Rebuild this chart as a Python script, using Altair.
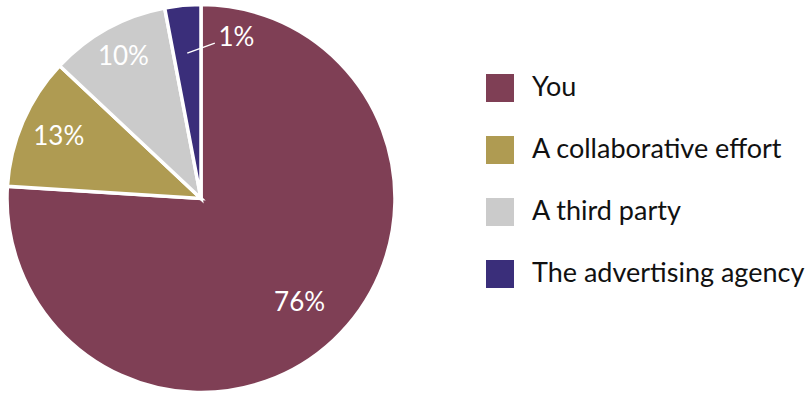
import altair as alt
import pandas as pd

categories = ["You", "A collaborative effort", "A third party", "The advertising agency"]
shares = [76, 11, 10, 3]
labels = ["76%", "13%", "10%", "1%"]
colors = ["#7F3F55", "#AF9B52", "#CBCBCB", "#3A2E7A"]

df = pd.DataFrame({"category": categories, "share": shares, "label": labels,
                   "order": list(range(len(categories)))})

CX, CY, R = 201, 198.5, 194

arcs = alt.Chart(df).mark_arc(outerRadius=R, stroke="white", strokeWidth=3.5, x=CX, y=CY).encode(
    theta=alt.Theta("share:Q", stack=True),
    order=alt.Order("order:Q"),
    color=alt.Color("category:N",
                    scale=alt.Scale(domain=categories, range=colors),
                    sort=categories,
                    legend=alt.Legend(title=None, orient="none", legendX=486, legendY=74,
                                      symbolType="square", symbolSize=784,
                                      symbolStrokeWidth=0, labelFont="Lato",
                                      labelFontSize=27, labelColor="#111111",
                                      labelOffset=18, rowPadding=34, padding=0,
                                      labelLimit=400)),
)

# cumulative angles computed from the data (radians, clockwise from 12 o'clock)
polar = alt.Chart(df).transform_window(
    cum="sum(share)", sort=[alt.SortField("order")]
).transform_joinaggregate(total="sum(share)").transform_calculate(
    a0="2*PI*(datum.cum - datum.share/2)/datum.total"
)


def text_layer(lbl, r, offset=0.0):
    return polar.transform_filter(alt.datum.label == lbl).transform_calculate(
        ang=f"datum.a0 + {offset}"
    ).mark_text(radius=r, x=CX, y=CY, color="white", font="Lato", fontSize=26,
                align="center", baseline="middle").encode(
        theta=alt.Theta("ang:Q", scale=None), text="label:N")


t76 = text_layer("76%", 144)
t13 = text_layer("13%", 155)
t10 = text_layer("10%", 161)
t1 = text_layer("1%", 164, 0.312)

leader = polar.transform_calculate(
    lx=f"{CX} + 146*sin(datum.a0)",
    ly=f"{CY} - 146*cos(datum.a0)",
    lx2=f"{CX} + 156*sin(datum.a0 + 0.183)",
    ly2=f"{CY} - 156*cos(datum.a0 + 0.183)",
).transform_filter(alt.datum.label == "1%").mark_rule(color="white", strokeWidth=1.5).encode(
    x=alt.X("lx:Q", scale=None), y=alt.Y("ly:Q", scale=None),
    x2="lx2:Q", y2="ly2:Q",
)

chart = alt.layer(arcs, t76, t13, t10, leader, t1).properties(
    width=809, height=394, autosize=alt.AutoSizeParams(type="none"), padding=0,
    background="white",
).configure_view(stroke=None)

chart.save("out.html", embed_options={"renderer": "svg", "actions": False})
